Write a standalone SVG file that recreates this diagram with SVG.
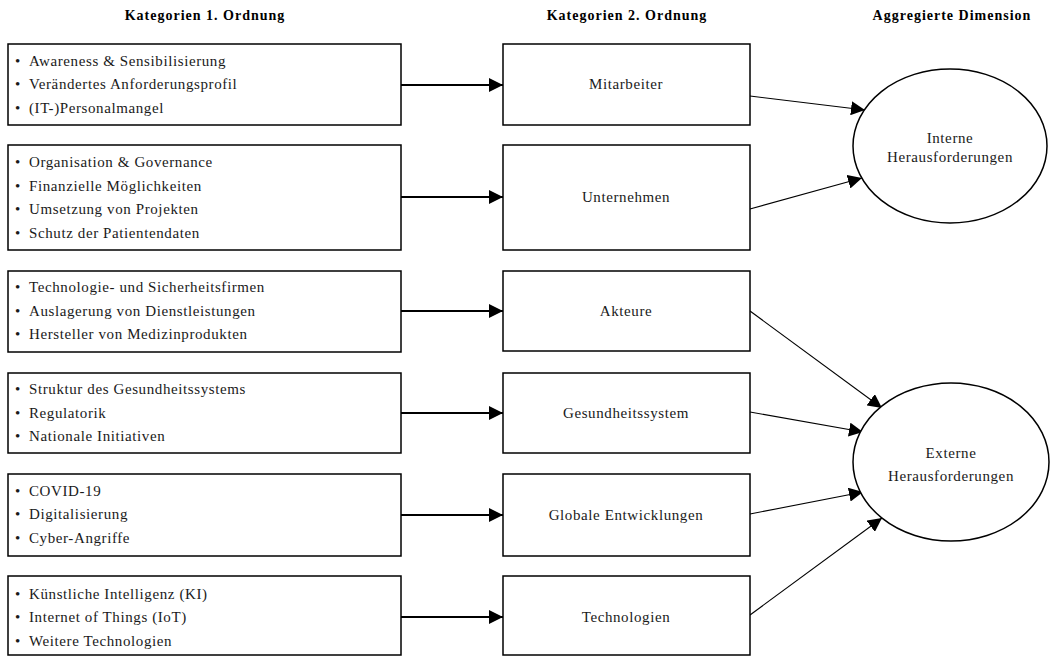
<svg xmlns="http://www.w3.org/2000/svg" width="1052" height="656" viewBox="0 0 1052 656">
<style>
  .box{fill:#fff;stroke:#000;stroke-width:1.5}
  .t{font-family:"Liberation Serif","Times New Roman",serif;font-size:15px;letter-spacing:0.6px;fill:#1a1a1a}
  .c{text-anchor:middle}
  .h{font-family:"Liberation Serif","Times New Roman",serif;font-size:14px;letter-spacing:1px;font-weight:bold;text-anchor:middle;fill:#000}
  .a1{stroke:#000;stroke-width:2;fill:none}
  .a2{stroke:#000;stroke-width:1.1;fill:none}
</style>
<defs>
  <marker id="ah" markerUnits="userSpaceOnUse" markerWidth="14" markerHeight="14" refX="12" refY="6" orient="auto" viewBox="0 0 12 12">
    <path d="M0,0 L12,6 L0,12 Z" fill="#000"/>
  </marker>
</defs>
<rect width="1052" height="656" fill="#fff"/>
<g id="headers">
  <text class="h" x="205" y="20">Kategorien 1. Ordnung</text>
  <text class="h" x="627" y="20">Kategorien 2. Ordnung</text>
  <text class="h" x="952" y="20">Aggregierte Dimension</text>
</g>
<g id="connectors">
  <line class="a1" x1="401" y1="85" x2="503" y2="85" marker-end="url(#ah)"/>
  <line class="a1" x1="401" y1="197" x2="503" y2="197" marker-end="url(#ah)"/>
  <line class="a1" x1="401" y1="311" x2="503" y2="311" marker-end="url(#ah)"/>
  <line class="a1" x1="401" y1="413" x2="503" y2="413" marker-end="url(#ah)"/>
  <line class="a1" x1="401" y1="515" x2="503" y2="515" marker-end="url(#ah)"/>
  <line class="a1" x1="401" y1="617" x2="503" y2="617" marker-end="url(#ah)"/>
  <line class="a2" x1="750" y1="96" x2="865" y2="110" marker-end="url(#ah)"/>
  <line class="a2" x1="750" y1="209" x2="862" y2="178" marker-end="url(#ah)"/>
  <line class="a2" x1="750" y1="311" x2="882" y2="408" marker-end="url(#ah)"/>
  <line class="a2" x1="750" y1="412" x2="863" y2="432" marker-end="url(#ah)"/>
  <line class="a2" x1="750" y1="514" x2="863" y2="492" marker-end="url(#ah)"/>
  <line class="a2" x1="750" y1="615" x2="882" y2="518" marker-end="url(#ah)"/>
</g>
<g id="l1">
  <rect class="box" x="8" y="44" width="393" height="81"/>
  <text class="t" x="15" y="66">•</text><text class="t" x="29" y="66">Awareness &amp; Sensibilisierung</text>
  <text class="t" x="15" y="89">•</text><text class="t" x="29" y="89">Verändertes Anforderungsprofil</text>
  <text class="t" x="15" y="113">•</text><text class="t" x="29" y="113">(IT-)Personalmangel</text>
</g>
<g id="l2">
  <rect class="box" x="8" y="145" width="393" height="105"/>
  <text class="t" x="15" y="167">•</text><text class="t" x="29" y="167">Organisation &amp; Governance</text>
  <text class="t" x="15" y="191">•</text><text class="t" x="29" y="191">Finanzielle Möglichkeiten</text>
  <text class="t" x="15" y="214">•</text><text class="t" x="29" y="214">Umsetzung von Projekten</text>
  <text class="t" x="15" y="238">•</text><text class="t" x="29" y="238">Schutz der Patientendaten</text>
</g>
<g id="l3">
  <rect class="box" x="8" y="271" width="393" height="81"/>
  <text class="t" x="15" y="292">•</text><text class="t" x="29" y="292">Technologie- und Sicherheitsfirmen</text>
  <text class="t" x="15" y="316">•</text><text class="t" x="29" y="316">Auslagerung von Dienstleistungen</text>
  <text class="t" x="15" y="339">•</text><text class="t" x="29" y="339">Hersteller von Medizinprodukten</text>
</g>
<g id="l4">
  <rect class="box" x="8" y="373" width="393" height="80"/>
  <text class="t" x="15" y="394">•</text><text class="t" x="29" y="394">Struktur des Gesundheitssystems</text>
  <text class="t" x="15" y="418">•</text><text class="t" x="29" y="418">Regulatorik</text>
  <text class="t" x="15" y="441">•</text><text class="t" x="29" y="441">Nationale Initiativen</text>
</g>
<g id="l5">
  <rect class="box" x="8" y="474" width="393" height="82"/>
  <text class="t" x="15" y="496">•</text><text class="t" x="29" y="496">COVID-19</text>
  <text class="t" x="15" y="519">•</text><text class="t" x="29" y="519">Digitalisierung</text>
  <text class="t" x="15" y="543">•</text><text class="t" x="29" y="543">Cyber-Angriffe</text>
</g>
<g id="l6">
  <rect class="box" x="8" y="576" width="393" height="79"/>
  <text class="t" x="15" y="599">•</text><text class="t" x="29" y="599">Künstliche Intelligenz (KI)</text>
  <text class="t" x="15" y="622">•</text><text class="t" x="29" y="622">Internet of Things (IoT)</text>
  <text class="t" x="15" y="646">•</text><text class="t" x="29" y="646">Weitere Technologien</text>
</g>
<g id="m1"><rect class="box" x="503" y="44" width="247" height="81"/><text class="t c" x="626" y="89">Mitarbeiter</text></g>
<g id="m2"><rect class="box" x="503" y="145" width="247" height="105"/><text class="t c" x="626" y="202">Unternehmen</text></g>
<g id="m3"><rect class="box" x="503" y="271" width="247" height="80"/><text class="t c" x="626" y="316">Akteure</text></g>
<g id="m4"><rect class="box" x="503" y="373" width="247" height="80"/><text class="t c" x="626" y="418">Gesundheitssystem</text></g>
<g id="m5"><rect class="box" x="503" y="474" width="247" height="82"/><text class="t c" x="626" y="520">Globale Entwicklungen</text></g>
<g id="m6"><rect class="box" x="503" y="576" width="247" height="79"/><text class="t c" x="626" y="622">Technologien</text></g>
<g id="e1">
  <ellipse class="box" cx="950" cy="146" rx="97" ry="77"/>
  <text class="t c" x="950" y="143">Interne</text>
  <text class="t c" x="950" y="162">Herausforderungen</text>
</g>
<g id="e2">
  <ellipse class="box" cx="951" cy="462" rx="98" ry="79"/>
  <text class="t c" x="951" y="458">Externe</text>
  <text class="t c" x="951" y="481">Herausforderungen</text>
</g>
</svg>
